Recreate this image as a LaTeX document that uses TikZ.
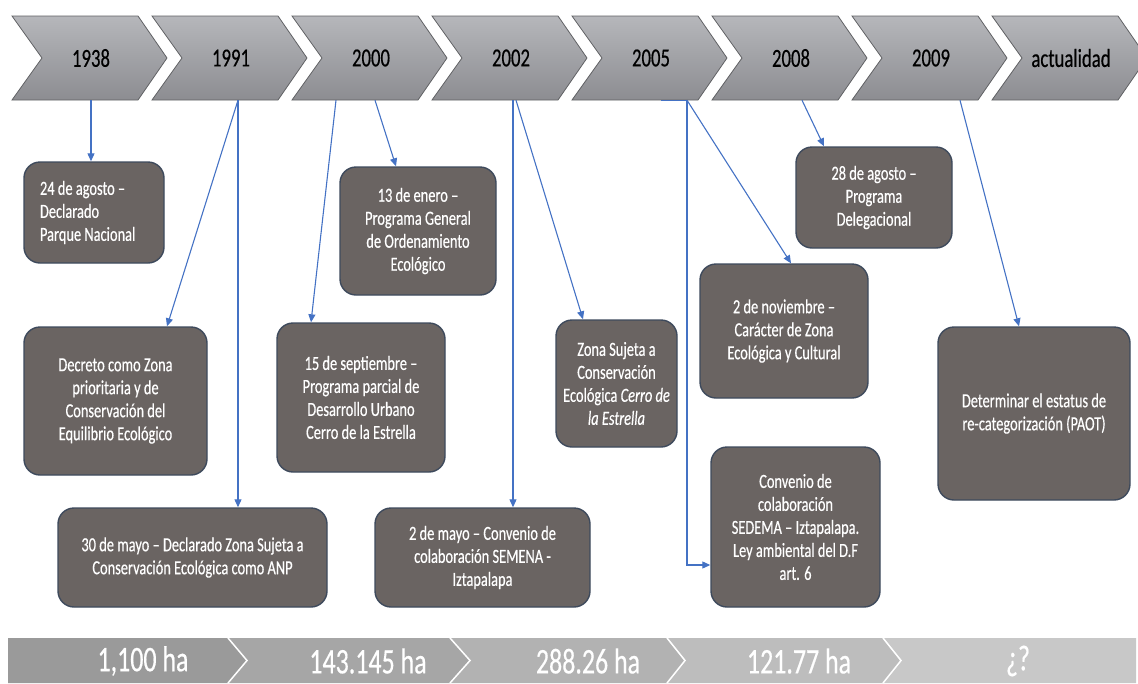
\documentclass[tikz,border=0pt]{standalone}
\usepackage{fontspec}
\setmainfont{Carlito}[FakeStretch=0.72, FakeBold=0.4]
\usepackage{tikz}
\usetikzlibrary{arrows.meta}
\definecolor{boxfill}{RGB}{106,100,98}
\definecolor{boxline}{RGB}{62,74,92}
\definecolor{arrowblue}{RGB}{68,114,196}
\definecolor{chevtop}{RGB}{182,183,187}
\definecolor{chevbot}{RGB}{140,141,145}
\definecolor{chevline}{RGB}{96,97,100}
\definecolor{bandA}{RGB}{154,154,154}
\definecolor{bandB}{RGB}{166,166,166}
\definecolor{bandC}{RGB}{178,178,178}
\definecolor{bandD}{RGB}{189,189,189}
\definecolor{bandE}{RGB}{200,200,200}

\begin{document}
\begin{tikzpicture}[x=1pt, y=-1pt,
    chev/.style={draw=chevline, line width=0.8pt, top color=chevtop, bottom color=chevbot},
    year/.style={minimum height=84pt, font=\fontsize{26}{30}\selectfont},
    box/.style={draw=boxline, line width=1.4pt, fill=boxfill, rounded corners=16pt,
                text=white, align=center, inner sep=0pt, font=\fontsize{20}{23}\selectfont},
    arrow/.style={-{Triangle[length=8pt,width=7pt]}, draw=arrowblue, line width=1.1pt},
    divider/.style={draw=white, line width=1.5pt},
    area/.style={text=white, font=\fontsize{36}{40}\selectfont}
  ]
  \useasboundingbox (0,0) rectangle (1138,683);

  % years
  \draw[chev] (12,16) -- ++(126,0) -- ++(29,42) -- ++(-29,42) -- ++(-126,0) -- ++(30,-42) -- cycle;
  \draw[chev] (152,16) -- ++(126,0) -- ++(29,42) -- ++(-29,42) -- ++(-126,0) -- ++(30,-42) -- cycle;
  \draw[chev] (292,16) -- ++(126,0) -- ++(29,42) -- ++(-29,42) -- ++(-126,0) -- ++(30,-42) -- cycle;
  \draw[chev] (432,16) -- ++(126,0) -- ++(29,42) -- ++(-29,42) -- ++(-126,0) -- ++(30,-42) -- cycle;
  \draw[chev] (572,16) -- ++(126,0) -- ++(29,42) -- ++(-29,42) -- ++(-126,0) -- ++(30,-42) -- cycle;
  \draw[chev] (712,16) -- ++(126,0) -- ++(29,42) -- ++(-29,42) -- ++(-126,0) -- ++(30,-42) -- cycle;
  \draw[chev] (852,16) -- ++(126,0) -- ++(29,42) -- ++(-29,42) -- ++(-126,0) -- ++(30,-42) -- cycle;
  \draw[chev] (992,16) -- ++(126,0) -- ++(29,42) -- ++(-29,42) -- ++(-126,0) -- ++(30,-42) -- cycle;
  \node[year] (y1938) at (91,58)   {1938};
  \node[year] (y1991) at (231,58)  {1991};
  \node[year] (y2000) at (371,58)  {2000};
  \node[year] (y2002) at (511,58)  {2002};
  \node[year] (y2005) at (651,58)  {2005};
  \node[year] (y2008) at (791,58)  {2008};
  \node[year] (y2009) at (931,58)  {2009};
  \node[year] (yact)  at (1071,58) {actualidad};

  % events
  \node[box, minimum width=140pt, minimum height=101pt, text width=108pt, align=flush left]
    (parque) at (94,212.5) {24 de agosto –\\Declarado\\Parque Nacional};
  \node[box, minimum width=183pt, minimum height=148pt] (decreto) at (115.5,401)
    {Decreto como Zona\\prioritaria y de\\Conservación del\\Equilibrio Ecológico};
  \node[box, minimum width=269pt, minimum height=99pt] (anp) at (192.5,557.5)
    {30 de mayo – Declarado Zona Sujeta a\\Conservación Ecológica como ANP};
  \node[box, minimum width=156pt, minimum height=128pt] (ordena) at (418,231)
    {13 de enero –\\Programa General\\de Ordenamiento\\Ecológico};
  \node[box, minimum width=168pt, minimum height=149pt] (parcial) at (361,397.5)
    {15 de septiembre –\\Programa parcial de\\Desarrollo Urbano\\Cerro de la Estrella};
  \node[box, minimum width=215pt, minimum height=99pt] (semena) at (482.5,557.5)
    {2 de mayo – Convenio de\\colaboración SEMENA -\\Iztapalapa};
  \node[box, minimum width=121pt, minimum height=127pt] (zona) at (616.5,383.5)
    {Zona Sujeta a\\Conservación\\Ecológica \textit{Cerro de}\\\textit{la Estrella}};
  \node[box, minimum width=168pt, minimum height=134pt] (caracter) at (784,331)
    {2 de noviembre –\\Carácter de Zona\\Ecológica y Cultural};
  \node[box, minimum width=169pt, minimum height=160pt] (convenio) at (795.5,527)
    {Convenio de\\colaboración\\SEDEMA – Iztapalapa.\\Ley ambiental del D.F\\art. 6};
  \node[box, minimum width=156pt, minimum height=101pt] (deleg) at (874,197.5)
    {28 de agosto –\\Programa\\Delegacional};
  \node[box, minimum width=192pt, minimum height=173pt] (paot) at (1034,413.5)
    {Determinar el estatus de\\re-categorización (PAOT)};

  \draw[arrow] (y1938.south) -- ([xshift=-3]parque.north);
  \draw[arrow] ([xshift=7]y1991.south) -- ([xshift=51.5]decreto.north);
  \draw[arrow] ([xshift=7]y1991.south) -- ([xshift=45.5]anp.north);
  \draw[arrow] ([xshift=-35]y2000.south) -- ([xshift=-50]parcial.north);
  \draw[arrow] ([xshift=4]y2000.south) -- ([xshift=-22]ordena.north);
  \draw[arrow] ([xshift=2]y2002.south) -- ([xshift=30.5]semena.north);
  \draw[arrow] ([xshift=5]y2002.south) -- ([xshift=-33.5]zona.north);
  \draw[arrow] ([xshift=10]y2005.south) -- ++(26,0) |- ([yshift=-38]convenio.west);
  \draw[arrow] ([xshift=36]y2005.south) -- ([xshift=7]caracter.north);
  \draw[arrow] ([xshift=11]y2008.south) -- ([xshift=-50]deleg.north);
  \draw[arrow] ([xshift=29]y2009.south) -- ([xshift=-15]paot.north);

  % surface band
  \fill[bandA] (8,638) -- (228,638) -- (247,660.5) -- (228,683) -- (8,683) -- cycle;
  \fill[bandB] (228,638) -- (450,638) -- (470,660.5) -- (450,683) -- (228,683) -- (247,660.5) -- cycle;
  \fill[bandC] (450,638) -- (667,638) -- (685,660.5) -- (667,683) -- (450,683) -- (470,660.5) -- cycle;
  \fill[bandD] (667,638) -- (883,638) -- (901,660.5) -- (883,683) -- (667,683) -- (685,660.5) -- cycle;
  \fill[bandE] (883,638) -- (1136,638) -- (1136,683) -- (883,683) -- (901,660.5) -- cycle;
  \draw[divider] (228,638) -- (247,660.5) -- (228,683);
  \draw[divider] (450,638) -- (470,660.5) -- (450,683);
  \draw[divider] (667,638) -- (685,660.5) -- (667,683);
  \draw[divider] (883,638) -- (901,660.5) -- (883,683);
  \node[area] (ha1) at (143,661) {1,100 ha};
  \node[area] (ha2) at (368,661) {143.145 ha};
  \node[area] (ha3) at (588,661) {288.26 ha};
  \node[area] (ha4) at (799,661) {121.77 ha};
  \node[area] (ha5) at (1018,661) {¿?};
\end{tikzpicture}
\end{document}
